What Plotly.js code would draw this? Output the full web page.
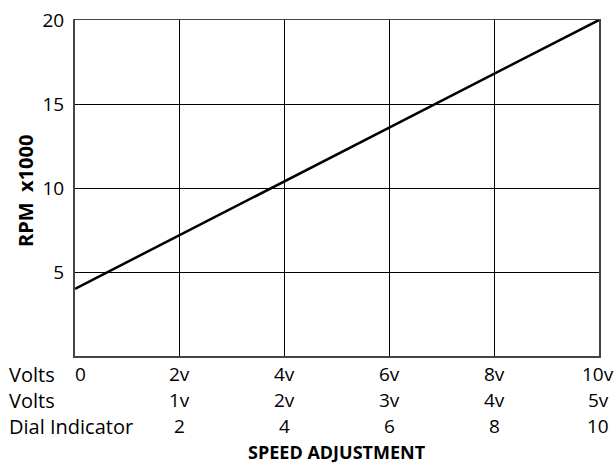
<!DOCTYPE html>
<html>
<head>
<meta charset="utf-8">
<script src="https://cdn.plot.ly/plotly-3.0.1.min.js"></script>
<style>html,body{margin:0;padding:0;background:#fff;}#chart{width:615px;height:465px;}</style>
</head>
<body>
<div id="chart"></div>
<script>
// Data
const speedX = [0, 10];          // position on the dial axis (Volts row 1 scale)
const rpmK = [4, 20];            // RPM x1000
const tickPos = [0, 2, 4, 6, 8, 10];
const voltsRow1 = ["0", "2v", "4v", "6v", "8v", "10v"];
const voltsRow2 = ["", "1v", "2v", "3v", "4v", "5v"];
const dialRow = ["", "2", "4", "6", "8", "10"];
const rowLabels = ["Volts", "Volts", "Dial Indicator"];
const yTicks = [5, 10, 15, 20];

const font = "Open Sans, Noto Sans, DejaVu Sans, sans-serif";
const rowsY = [374, 400, 426]; // pixel centers
const H = 465, T = 20, B = 109, L = 75, R = 16, W = 615;
function paperY(py) { return (H - B - py) / (H - T - B); }
const plotW = W - L - R;

const annotations = [];
const rows = [voltsRow1, voltsRow2, dialRow];
rows.forEach((row, r) => {
  row.forEach((t, i) => {
    if (!t) return;
    annotations.push({
      x: tickPos[i], xref: 'x', y: paperY(rowsY[r]), yref: 'paper',
      text: t, showarrow: false, xanchor: 'center', yanchor: 'middle',
      xshift: i === 0 ? 5 : (i === 5 ? -1 : 0),
      font: {family: font, size: 19, color: '#000'}
    });
  });
  annotations.push({
    x: (7 - L) / plotW, xref: 'paper', y: paperY(rowsY[r]), yref: 'paper',
    text: rowLabels[r], showarrow: false, xanchor: 'left', yanchor: 'middle',
    font: {family: font, size: 20, color: '#000'}
  });
});
annotations.push({
  x: 0.5, xref: 'paper', y: paperY(452), yref: 'paper',
  text: "<b>SPEED ADJUSTMENT</b>", showarrow: false, xanchor: 'center', yanchor: 'middle',
  font: {family: font, size: 18, color: '#000'}
});
annotations.push({
  x: (25 - L) / plotW, xref: 'paper', y: paperY(191), yref: 'paper',
  text: "<b>RPM\u00a0 x1000</b>", showarrow: false, textangle: -90,
  xanchor: 'center', yanchor: 'middle',
  font: {family: font, size: 20, color: '#000'}
});

const trace = {
  x: speedX, y: rpmK, type: 'scatter', mode: 'lines',
  line: {color: '#000', width: 2.5}, showlegend: false, hoverinfo: 'skip'
};

const layout = {
  width: W, height: H,
  margin: {l: L, r: R, t: T, b: B, pad: 0},
  paper_bgcolor: '#fff', plot_bgcolor: '#fff',
  xaxis: {
    range: [0, 10], tickvals: tickPos, showticklabels: false,
    showgrid: true, gridcolor: '#000', gridwidth: 1,
    zeroline: false, showline: true, linecolor: '#444', linewidth: 1.5, mirror: true,
    ticks: '', fixedrange: true
  },
  yaxis: {
    range: [0, 20], tickvals: yTicks, ticktext: yTicks.map(String),
    showgrid: true, gridcolor: '#000', gridwidth: 1,
    zeroline: false, showline: true, linecolor: '#444', linewidth: 2, mirror: true,
    ticks: '', ticklabelstandoff: 5,
    tickfont: {family: font, size: 19, color: '#000'},
    fixedrange: true
  },
  annotations: annotations
};

Plotly.newPlot('chart', [trace], layout, {displayModeBar: false, staticPlot: true});
</script>
</body>
</html>
